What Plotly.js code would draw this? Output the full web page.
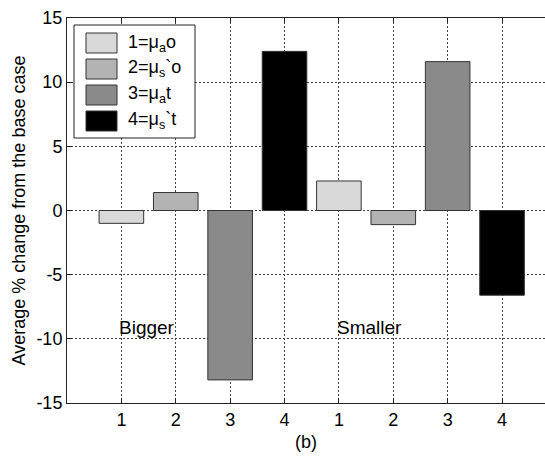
<!DOCTYPE html>
<html>
<head>
<meta charset="utf-8">
<script src="https://cdn.plot.ly/plotly-3.0.1.min.js"></script>
<style>html,body{margin:0;padding:0;background:#fff;overflow:hidden;}</style>
</head>
<body>
<div id="chart" style="width:545px;height:459px;"></div>
<script>
// Data
const seriesNames = ["1=μ<sub>a</sub>o", "2=μ<sub>s</sub>`o", "3=μ<sub>a</sub>t", "4=μ<sub>s</sub>`t"];
const biggerValues = [-1.0, 1.4, -13.2, 12.4];
const smallerValues = [2.3, -1.1, 11.6, -6.6];
const tickPositions = [1, 2, 3, 4, 5, 6, 7, 8];
const tickLabels = ["1", "2", "3", "4", "1", "2", "3", "4"];
const yTickValues = [-15, -10, -5, 0, 5, 10, 15];
const yTickLabels = ["-15", "-10", "-5", "0", "5", "10", "15"];
const groupLabels = ["Bigger", "Smaller"];
const groupLabelPos = [1, 5];

const colors = ["#d9d9d9", "#b3b3b3", "#8a8a8a", "#000000"];
const font = "Liberation Sans, Arial, sans-serif";

const traces = seriesNames.map((name, i) => ({
  type: "bar",
  name: name,
  x: [tickPositions[i], tickPositions[i + 4]],
  y: [biggerValues[i], smallerValues[i]],
  width: 0.82,
  marker: {color: colors[i], line: {color: "#333", width: 1}},
  showlegend: false,
  hoverinfo: "y"
}));

// Custom legend (swatches + labels in paper pixels)
const W = 545, H = 459, ml = 67, mt = 18, mb = 56, mr = 0;
const pw = W - ml - mr, ph = H - mt - mb;
function px(x) { return (x - ml) / pw; }
function py(y) { return 1 - (y - mt) / ph; }

const shapes = [
  {type: "rect", xref: "paper", yref: "paper", x0: px(74), x1: px(195), y0: py(138), y1: py(25),
   line: {color: "#222", width: 1}, fillcolor: "#fff", layer: "above"}
];
const annotations = [];
seriesNames.forEach((name, i) => {
  const top = 33 + i * 26;
  shapes.push({type: "rect", xref: "paper", yref: "paper", x0: px(86), x1: px(117),
    y0: py(top + 20), y1: py(top), fillcolor: colors[i], line: {color: "#333", width: 1}, layer: "above"});
  annotations.push({xref: "paper", yref: "paper", x: px(126), y: py(top + 10), xanchor: "left", yanchor: "middle",
    text: name, showarrow: false, font: {family: font, size: 18, color: "#000"}});
});
groupLabels.forEach((t, i) => {
  annotations.push({x: groupLabelPos[i], y: -10.1, xref: "x", yref: "y", xanchor: "left", yanchor: "bottom",
    text: t, showarrow: false, xshift: -4, font: {family: font, size: 19, color: "#000"}});
});

const layout = {
  width: W, height: H,
  margin: {l: ml, r: mr, t: mt, b: mb, pad: 0},
  paper_bgcolor: "#fff", plot_bgcolor: "#fff",
  font: {family: font, size: 17, color: "#000"},
  bargap: 0,
  xaxis: {
    range: [0, 8.79],
    tickmode: "array", tickvals: tickPositions, ticktext: tickLabels,
    ticks: "inside", ticklen: 5, tickcolor: "#222",
    showline: true, linecolor: "#222", linewidth: 1, mirror: "ticks",
    showgrid: true, gridcolor: "#444", griddash: "2px,2px", gridwidth: 1,
    zeroline: false,
    tickfont: {family: font, size: 18},
    title: {text: "(b)", font: {family: font, size: 18}, standoff: 6}
  },
  yaxis: {
    range: [-15, 15],
    tickmode: "array", tickvals: yTickValues, ticktext: yTickLabels,
    ticks: "inside", ticklen: 5, tickcolor: "#222",
    showline: true, linecolor: "#222", linewidth: 1, mirror: false,
    showgrid: true, gridcolor: "#444", griddash: "2px,2px", gridwidth: 1,
    zeroline: false,
    tickfont: {family: font, size: 18},
    title: {text: "Average % change from the base case", font: {family: font, size: 18}, standoff: 6}
  },
  shapes: shapes,
  annotations: annotations,
  showlegend: false
};

Plotly.newPlot("chart", traces, layout, {displayModeBar: false, staticPlot: true});
</script>
</body>
</html>
